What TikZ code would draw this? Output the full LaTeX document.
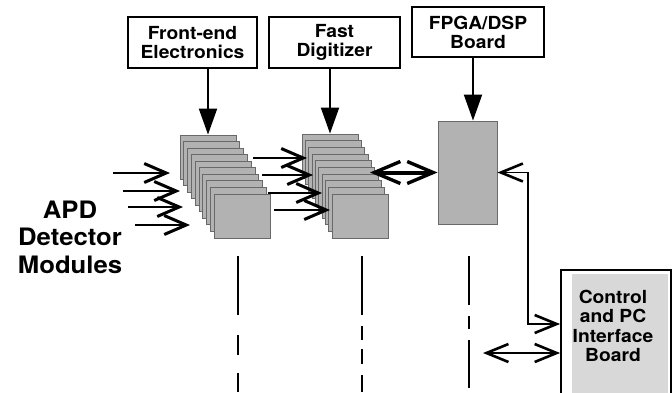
\documentclass[tikz,border=0pt]{standalone}
\usepackage{fontspec}
\setmainfont{TeX Gyre Heros}[FakeStretch=1.07]
\usetikzlibrary{arrows.meta}

\definecolor{cardgray}{RGB}{178,178,178}
\definecolor{cardedge}{RGB}{105,105,105}
\definecolor{boardgray}{RGB}{216,216,216}

\tikzset{
  boxlabel/.style={draw, line width=1.6pt, align=center, inner sep=0pt,
    font=\bfseries\fontsize{18}{19}\selectfont},
  card/.style={draw=cardedge, fill=cardgray, line width=0.9pt,
    minimum width=56pt, minimum height=44pt, inner sep=0pt},
  feed/.style={line width=2pt, -{Triangle[length=26pt,width=18pt]}},
  sig/.style={line width=2.2pt, -{Straight Barb[length=22pt,width=19pt,line width=3pt]}},
  ctl/.style={line width=1.8pt, {Straight Barb[length=22pt,width=18pt,line width=2.6pt]}-{Straight Barb[length=22pt,width=18pt,line width=2.6pt]}},
  bus/.style={line width=4pt, {Straight Barb[length=26pt,width=22pt,line width=3.4pt]}-{Straight Barb[length=26pt,width=22pt,line width=3.4pt]}},
  rule/.style={line width=2pt}
}

\begin{document}
\begin{tikzpicture}[x=1pt,y=-1pt]
\useasboundingbox (0,0) rectangle (672,392);

% labels on top
\node[boxlabel, minimum width=129pt, minimum height=51pt] (fee) at (192.5,42.5) {Front-end\\Electronics};
\node[boxlabel, minimum width=131pt, minimum height=51pt] (digi) at (334.5,42.5) {Fast\\Digitizer};
\node[boxlabel, minimum width=132pt, minimum height=50pt] (fpgabrd) at (478,32) {FPGA/DSP\\Board};

% module stacks, back card first
\foreach \i in {1,...,10}
  \node[card] (fe\i) at ({208+(\i-1)*3.8},{157+(\i-1)*6.55}) {};
\foreach \i in {1,...,10}
  \node[card] (dg\i) at ({330+(\i-1)*3.33},{156+(\i-1)*6.67}) {};
\node[draw=cardedge, fill=cardgray, line width=0.9pt, minimum width=59pt,
  minimum height=103pt, inner sep=0pt] (dsp) at (467.5,172.5) {};

\node[align=center, font=\bfseries\fontsize{24}{27.5}\selectfont] (apd) at (70,237) {APD\\Detector\\Modules};

% control board, runs off the page
\node[draw, line width=1.8pt, minimum width=110pt, minimum height=125pt, inner sep=0pt,
  path picture={\fill[boardgray] ([xshift=11pt,yshift=-4pt]path picture bounding box.north west)
    rectangle ([xshift=-3pt]path picture bounding box.south east);}] (ctrl) at (616,332.5) {};
\node[align=center, font=\bfseries\fontsize{18}{19.5}\selectfont] (ctrltxt) at (613,326) {Control\\and PC\\Interface\\Board};

% feeds from the labels
\draw[feed] (fee.south -| fe1.north) -- (fe1.north);
\draw[feed] (digi.south -| dg1.north) -- (dg1.north);
\draw[feed] ([xshift=-5pt]fpgabrd.south) -- ([xshift=-5pt]fpgabrd.south |- dsp.north);

% detector inputs
\foreach \ya/\xa/\xb [count=\k] in {173/113/170, 191/123/180, 207/128/183, 225/135/190} {
  \coordinate (in\k) at (\xa,\ya);
  \coordinate (inend\k) at (\xb,\ya);
  \draw[sig] (in\k) -- (inend\k);
}
% front-end to digitizer
\foreach \ya/\xa/\xb [count=\k] in {158/253/307, 175/262/313, 193/268/322, 210/274/330} {
  \coordinate (out\k) at (\xa,\ya);
  \coordinate (dgin\k) at (\xb,\ya);
  \draw[sig] (out\k) -- (dgin\k);
}

\coordinate (dgout) at (370,172.5);
\draw[bus] (dgout) -- (dsp.west);

\coordinate (fb) at (528,324);
\draw[ctl] (dsp.east) -| (fb) -- (fb -| ctrl.west);
\coordinate (pc) at (483,353);
\draw[ctl] (pc) -- (pc -| ctrl.west);

% dash-dot separators
\draw[rule] (238,256) -- (238,315) (238,335) -- (238,355) (238,373) -- (238,392);
\draw[rule] (362,256) -- (362,315) (362,326) -- (362,340) (362,349) -- (362,364) (362,375) -- (362,392);
\draw[rule] (469,256) -- (469,305) (469,316) -- (469,329) (469,340) -- (469,388);
\end{tikzpicture}
\end{document}
